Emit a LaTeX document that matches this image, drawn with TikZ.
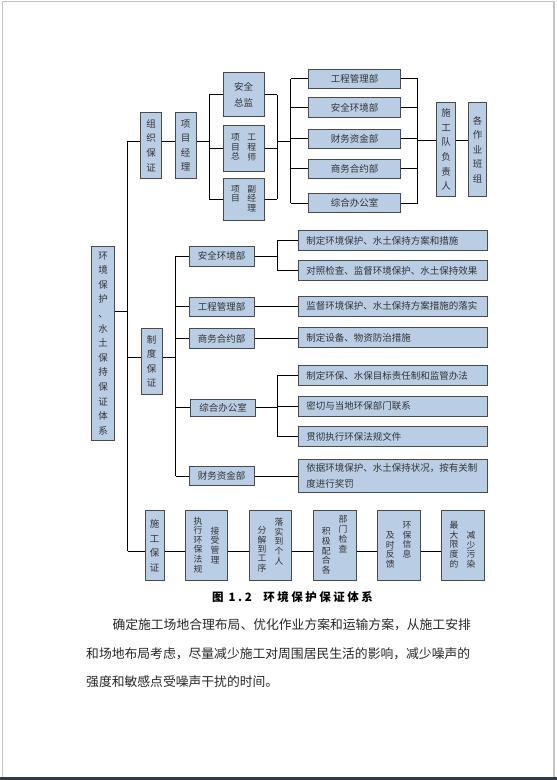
\documentclass[tikz,border=0pt]{standalone}
\usepackage{fontspec}
\setmainfont{Noto Sans CJK SC}
\usepackage{tikz}
\usetikzlibrary{calc}
\definecolor{bFill}{HTML}{B9CDE5}
\definecolor{bdr}{HTML}{4A4A4A}
\definecolor{txt}{HTML}{333333}
\definecolor{pageBdr}{HTML}{C4C4C4}
\definecolor{pageFoot}{HTML}{2E3B44}
\newcommand{\bxfont}{\fontsize{9.5}{15.6}\selectfont}
\newcommand{\vtfont}{\fontsize{9.5}{14.6}\selectfont}
\newcommand{\colfont}{\fontsize{8.8}{9.8}\selectfont}
% one column of stacked characters, optionally lowered
\newcommand{\vcol}[2][0pt]{\raisebox{-#1}{\renewcommand{\arraystretch}{0.8}%
  \begin{tabular}[t]{@{}c@{}}#2\end{tabular}}}
\tikzset{
  % connectors
  ln/.style={draw=black, line width=0.8pt},
  % boxes
  bx/.style={draw=bdr, line width=0.9pt, fill=bFill, text=txt,
    font=\bxfont, inner sep=0pt, align=center},
  vbx/.style={bx, font=\vtfont},
  sz/.style 2 args={minimum width=#1pt, minimum height=#2pt},
  dep/.style={bx, sz={64.7}{19.5}},
  dt/.style={bx, sz={189}{20}, align=left, text width=173pt},
  para/.style={anchor=west, inner sep=0pt, text=black!85,
    font=\fontsize{12.8}{14}\selectfont},
}

\begin{document}
\begin{tikzpicture}[x=1pt, y=-1pt]
\useasboundingbox (0,0) rectangle (557,780);

% ---- page frame ----
\draw[pageBdr, line width=1.5pt] (2.5,778) -- (2.5,1.5) -- (554,1.5) -- (554,778);
\fill[pageFoot] (0,777) rectangle (557,780);

% =====================================================================
% TOP: organisation
% =====================================================================
\node[vbx, sz={21.5}{65.5}] (zuzhi) at (151,145.5) {组\\织\\保\\证};
\node[vbx, sz={21.3}{65.5}] (xmjl) at (185.7,145.5) {项\\目\\经\\理};

\node[bx, sz={41}{44}] (aqzj) at (243.7,94.7) {安全\\总监};
\node[bx, sz={41}{45.7}, font=\colfont] (xmzg) at (243.7,148.2)
  {\vcol{项\\目\\总}\hspace{7.5pt}\vcol{工\\程\\师}};
\node[bx, sz={41}{41.7}, font=\colfont] (xmfj) at (243.7,199.2)
  {\vcol{项\\目}\hspace{7.5pt}\vcol{副\\经\\理}};

\node[bx, sz={92.4}{19}] (gcgl1) at (354.5,78.8) {工程管理部};
\node[bx, sz={92.4}{19.6}] (aqhj1) at (354.5,107.5) {安全环境部};
\node[bx, sz={92.4}{19}] (cwzj1) at (354.5,138.8) {财务资金部};
\node[bx, sz={92.4}{19}] (swhy1) at (354.5,168.8) {商务合约部};
\node[bx, sz={92.4}{19.4}] (zhbg1) at (354.5,203) {综合办公室};

\node[vbx, sz={19}{94.4}] (sgdfz) at (446.2,149.5) {施\\工\\队\\负\\责\\人};
\node[vbx, sz={18.4}{94.4}] (gzybz) at (477.5,149.5) {各\\作\\业\\班\\组};

% trunk and junctions
\coordinate (trTop) at (127.7,141);
\coordinate (trMain) at (127.7,311);
\coordinate (trZd) at (127.7,357.7);
\coordinate (trBot) at (127.7,551);
\coordinate (brA) at (209.3,141.5);
\coordinate (brB) at (277.3,141.5);
\coordinate (brC) at (290.7,141.5);
\coordinate (brD) at (417.7,140.5);

\draw[ln] (trTop) -- (trBot);
\draw[ln] (trTop) -- (trTop -| zuzhi.west);
\draw[ln] (zuzhi.east |- trTop) -- (xmjl.west |- trTop);
\draw[ln] (xmjl.east |- brA) -- (brA);
\draw[ln] (brA |- aqzj) -- (brA |- xmfj);
\draw[ln] (brB |- aqzj) -- (brB |- xmfj);
\foreach \n in {aqzj, xmzg, xmfj}
  \draw[ln] (brA |- \n) -- (\n.west) (\n.east) -- (brB |- \n);
\draw[ln] (brB) -- (brC);
\draw[ln] (brC |- gcgl1) -- (brC |- zhbg1);
\draw[ln] (brD |- gcgl1) -- (brD |- zhbg1);
\foreach \n in {gcgl1, aqhj1, cwzj1, swhy1, zhbg1}
  \draw[ln] (brC |- \n) -- (\n.west) (\n.east) -- (brD |- \n);
\draw[ln] (brD) -- (brD -| sgdfz.west);
\draw[ln] (sgdfz.east |- brD) -- (gzybz.west |- brD);

% =====================================================================
% MIDDLE: system
% =====================================================================
\node[vbx, sz={22.6}{193.3}] (main) at (103,343.3)
  {环\\境\\保\\护\\、\\水\\土\\保\\持\\保\\证\\体\\系};
\draw[ln] (main.east |- trMain) -- (trMain);

\node[vbx, sz={21.3}{65.7}] (zhidu) at (151.7,361.2) {制\\度\\保\\证};
\draw[ln] (trZd) -- (trZd -| zhidu.west);

\node[dep] (aqhj2) at (221.7,256.3) {安全环境部};
\node[dep] (gcgl2) at (221.7,306.7) {工程管理部};
\node[dep] (swhy2) at (221.7,338.5) {商务合约部};
\node[dep, minimum height=17pt] (zhbg2) at (223.2,407.5) {综合办公室};
\node[dep] (cwzj2) at (221.7,476) {财务资金部};

\node[dt] (d1) at (392.8,240.7) {制定环境保护、水土保持方案和措施};
\node[dt] (d2) at (392.8,270.7) {对照检查、监督环境保护、水土保持效果};
\node[dt] (d3) at (392.8,306) {监督环境保护、水土保持方案措施的落实};
\node[dt] (d4) at (392.8,337.8) {制定设备、物资防治措施};
\node[dt] (d5) at (392.8,375.7) {制定环保、水保目标责任制和监管办法};
\node[dt] (d6) at (392.8,406.2) {密切与当地环保部门联系};
\node[dt] (d7) at (392.8,436.7) {贯彻执行环保法规文件};
\node[dt, minimum height=33.4pt] (d8) at (392.8,476)
  {依据环境保护、水土保持状况，按有关制\\度进行奖罚};

\coordinate (brE) at (175.7,357.7);
\coordinate (brF) at (277.3,256.3);
\coordinate (brG) at (277.3,407.5);
\draw[ln] (zhidu.east |- brE) -- (brE);
\draw[ln] (brE |- aqhj2) -- (brE |- cwzj2);
\foreach \n in {aqhj2, gcgl2, swhy2, zhbg2, cwzj2}
  \draw[ln] (brE |- \n) -- (\n.west);
\draw[ln] (aqhj2.east) -- (brF);
\draw[ln] (brF |- d1) -- (brF |- d2);
\draw[ln] (zhbg2.east) -- (brG);
\draw[ln] (brG |- d5) -- (brG |- d7);
\foreach \n in {d1, d2}
  \draw[ln] (brF |- \n) -- (\n.west);
\foreach \n in {d5, d6, d7}
  \draw[ln] (brG |- \n) -- (\n.west);
\draw[ln] (gcgl2.east) -- (gcgl2.east -| d3.west);
\draw[ln] (swhy2.east) -- (swhy2.east -| d4.west);
\draw[ln] (cwzj2.east) -- (cwzj2.east -| d8.west);

% =====================================================================
% BOTTOM: construction
% =====================================================================
\node[vbx, sz={19.3}{70}] (sgbz) at (154.7,545.7) {施\\工\\保\\证};
\node[bx, sz={41.6}{70}, font=\colfont] (b1) at (206.5,545.7)
  {\vcol{执\\行\\环\\保\\法\\规}\hspace{8pt}\vcol[10pt]{接\\受\\管\\理}};
\node[bx, sz={42.4}{70}, font=\colfont] (b2) at (270.5,545.7)
  {\vcol[8pt]{分\\解\\到\\工\\序}\hspace{8pt}\vcol{落\\实\\到\\个\\人}};
\node[bx, sz={42.7}{70}, font=\colfont] (b3) at (334.7,545.7)
  {\vcol[12pt]{积\\极\\配\\合\\各}\hspace{8pt}\vcol{部\\门\\检\\查}};
\node[bx, sz={42.7}{70}, font=\colfont] (b4) at (398.7,545.7)
  {\vcol[10pt]{及\\时\\反\\馈}\hspace{8pt}\vcol{环\\保\\信\\息}};
\node[bx, sz={43}{70}, font=\colfont] (b5) at (462.5,545.7)
  {\vcol{最\\大\\限\\度\\的}\hspace{8pt}\vcol[10pt]{减\\少\\污\\染}};

\draw[ln] (trBot) -- (trBot -| sgbz.west);
\foreach \a/\b in {sgbz/b1, b1/b2, b2/b3, b3/b4, b4/b5}
  \draw[ln] (\a.east |- trBot) -- (\b.west |- trBot);

% ---- caption and body text ----
\node[font=\fontsize{11.5}{13}\selectfont\bfseries\addfontfeature{LetterSpace=22}]
  (cap) at (292.5,597.3) {图 1.2\quad 环境保护保证体系};
\node[para] (p1) at (112.3,625) {确定施工场地合理布局、优化作业方案和运输方案，从施工安排};
\node[para] (p2) at (86,653.3) {和场地布局考虑，尽量减少施工对周围居民生活的影响，减少噪声的};
\node[para] (p3) at (86,681.7) {强度和敏感点受噪声干扰的时间。};

\end{tikzpicture}
\end{document}
